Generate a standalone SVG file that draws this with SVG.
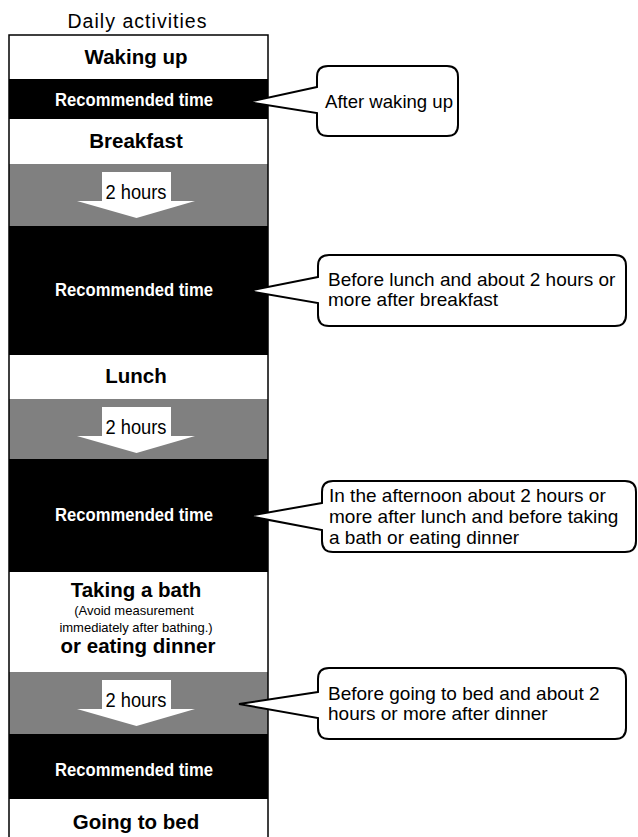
<svg xmlns="http://www.w3.org/2000/svg" width="638" height="837" viewBox="0 0 638 837">
<style>
.lbl{font-family:"Liberation Sans",Arial,sans-serif;font-weight:bold;font-size:20.5px;fill:#000;text-anchor:middle}
.rec{font-family:"Liberation Sans",Arial,sans-serif;font-weight:bold;font-size:17.5px;fill:#fff;text-anchor:middle}
.hrs{font-family:"Liberation Sans",Arial,sans-serif;font-size:19.5px;fill:#000;text-anchor:middle}
.small{font-family:"Liberation Sans",Arial,sans-serif;font-size:13px;fill:#000;text-anchor:middle}
.call{font-family:"Liberation Sans",Arial,sans-serif;font-size:19px;fill:#000}
.bubble{fill:#fff;stroke:#000;stroke-width:2;stroke-linejoin:miter}
.black{fill:#000}
.gray{fill:#808080}
.white{fill:#fff}
.arrow{fill:#fff}
</style>
<rect x="0" y="0" width="638" height="837" fill="#fff"/>
<text id="title" x="137" y="28" font-family="Liberation Sans, Arial, sans-serif" font-size="19.5" text-anchor="middle" textLength="139">Daily activities</text>
<g id="timeline">
  <rect class="white" x="9" y="35" width="259" height="44"/>
  <rect class="black" x="9" y="79" width="259" height="40"/>
  <rect class="white" x="9" y="119" width="259" height="45"/>
  <rect class="gray" x="9" y="164" width="259" height="62"/>
  <rect class="black" x="9" y="226" width="259" height="129"/>
  <rect class="white" x="9" y="355" width="259" height="44"/>
  <rect class="gray" x="9" y="399" width="259" height="60"/>
  <rect class="black" x="9" y="459" width="259" height="113"/>
  <rect class="white" x="9" y="572" width="259" height="100"/>
  <rect class="gray" x="9" y="672" width="259" height="62"/>
  <rect class="black" x="9" y="734" width="259" height="65"/>
  <rect class="white" x="9" y="799" width="259" height="50"/>
  <rect x="9" y="35" width="259" height="820" fill="none" stroke="#000" stroke-width="1.5"/>
</g>
<g id="waking"><text class="lbl" x="136" y="64">Waking up</text></g>
<g id="rec1"><text class="rec" x="134" y="106" textLength="158" lengthAdjust="spacingAndGlyphs">Recommended time</text></g>
<g id="breakfast"><text class="lbl" x="136" y="148">Breakfast</text></g>
<g id="arrow1">
  <polygon class="arrow" points="102,172 171,172 171,201 195,201 136.5,218 77,201 102,201"/>
  <text class="hrs" x="136" y="199" textLength="61" lengthAdjust="spacingAndGlyphs">2 hours</text>
</g>
<g id="rec2"><text class="rec" x="134" y="296" textLength="158" lengthAdjust="spacingAndGlyphs">Recommended time</text></g>
<g id="lunch"><text class="lbl" x="136" y="383">Lunch</text></g>
<g id="arrow2">
  <polygon class="arrow" points="102,407 171,407 171,436 195,436 136.5,453 77,436 102,436"/>
  <text class="hrs" x="136" y="434" textLength="61" lengthAdjust="spacingAndGlyphs">2 hours</text>
</g>
<g id="rec3"><text class="rec" x="134" y="521" textLength="158" lengthAdjust="spacingAndGlyphs">Recommended time</text></g>
<g id="bath">
  <text class="lbl" x="136" y="597">Taking a bath</text>
  <text class="small" x="134" y="615">(Avoid measurement</text>
  <text class="small" x="136" y="632">immediately after bathing.)</text>
  <text class="lbl" x="138" y="653">or eating dinner</text>
</g>
<g id="arrow3">
  <polygon class="arrow" points="102,680 171,680 171,709 195,709 136.5,726 77,709 102,709"/>
  <text class="hrs" x="136" y="707" textLength="61" lengthAdjust="spacingAndGlyphs">2 hours</text>
</g>
<g id="rec4"><text class="rec" x="134" y="776" textLength="158" lengthAdjust="spacingAndGlyphs">Recommended time</text></g>
<g id="bed"><text class="lbl" x="136" y="829">Going to bed</text></g>
<g id="connectors">
  <path id="callout1" class="bubble" d="M317,87 L248,102 L317,113 L317,125 Q317,136 328,136 L447,136 Q458,136 458,125 L458,77 Q458,66 447,66 L328,66 Q317,66 317,77 Z"/>
  <path id="callout2" class="bubble" d="M318,277 L248,291 L318,303 L318,315 Q318,326 329,326 L615,326 Q626,326 626,315 L626,266 Q626,255 615,255 L329,255 Q318,255 318,266 Z"/>
  <path id="callout3" class="bubble" d="M322,503 L248,516 L322,530 L322,541 Q322,552 333,552 L625,552 Q636,552 636,541 L636,492 Q636,481 625,481 L333,481 Q322,481 322,492 Z"/>
  <path id="callout4" class="bubble" d="M318,692 L239,704 L318,718 L318,728 Q318,739 329,739 L615,739 Q626,739 626,728 L626,679 Q626,668 615,668 L329,668 Q318,668 318,679 Z"/>
</g>
<g id="note1"><text class="call" x="325" y="108" font-size="18.6" textLength="128" lengthAdjust="spacingAndGlyphs">After waking up</text></g>
<g id="note2">
  <text class="call" x="328" y="286">Before lunch and about 2 hours or</text>
  <text class="call" x="328" y="306">more after breakfast</text>
</g>
<g id="note3">
  <text class="call" x="329" y="502">In the afternoon about 2 hours or</text>
  <text class="call" x="329" y="523">more after lunch and before taking</text>
  <text class="call" x="329" y="544">a bath or eating dinner</text>
</g>
<g id="note4">
  <text class="call" x="328" y="700">Before going to bed and about 2</text>
  <text class="call" x="328" y="720">hours or more after dinner</text>
</g>
</svg>
